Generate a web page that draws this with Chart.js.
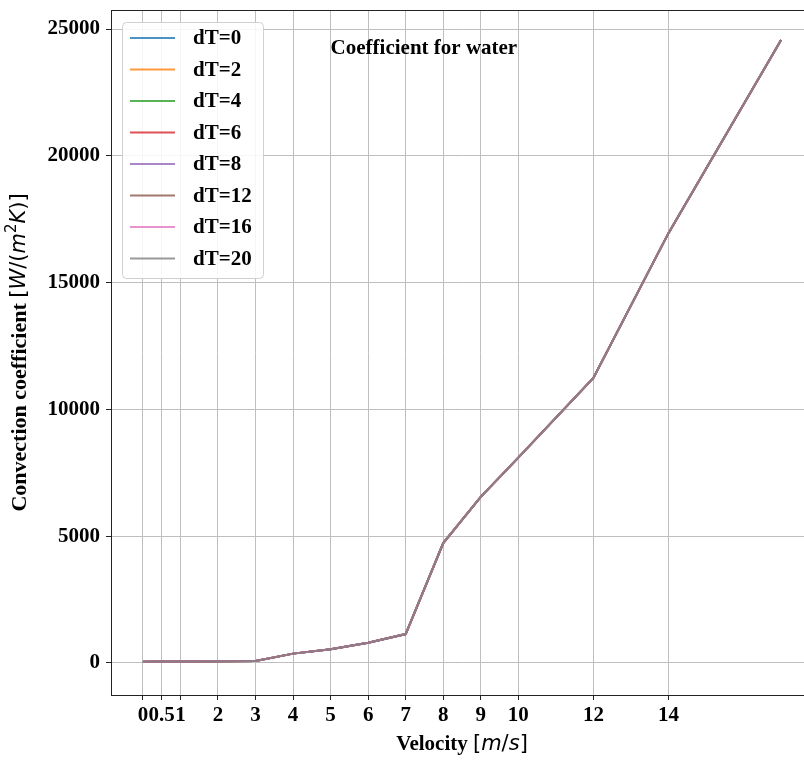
<!DOCTYPE html>
<html>
<head>
<meta charset="utf-8">
<script src="https://cdn.jsdelivr.net/npm/chart.js@4.4.0/dist/chart.umd.min.js"></script>
<style>
    html, body { margin: 0; padding: 0; background: #fff; overflow: hidden; }
    #wrap { width: 820px; height: 762px; }
</style>
</head>
<body>
<div id="wrap"><canvas id="waterChart"></canvas></div>
<script>
// Data (all dT curves overlap)
const velocity = [0, 0.5, 1, 2, 3, 4, 5, 6, 7, 8, 9, 10, 12, 14, 17];
const hWater = [50, 55, 60, 65, 80, 370, 540, 800, 1140, 4730, 6550, 8100, 11240, 16950, 24570];
const dTLabels = ['dT=0', 'dT=2', 'dT=4', 'dT=6', 'dT=8', 'dT=12', 'dT=16', 'dT=20'];
const lineColors = [
    'rgba(31,119,180,0.8)', 'rgba(255,127,14,0.8)', 'rgba(44,160,44,0.8)', 'rgba(214,39,40,0.8)',
    'rgba(148,103,189,0.8)', 'rgba(140,86,75,0.8)', 'rgba(227,119,194,0.8)', 'rgba(127,127,127,0.8)'
];
const xTicks = [0, 0.5, 1, 2, 3, 4, 5, 6, 7, 8, 9, 10, 12, 14];
const yTicks = [0, 5000, 10000, 15000, 20000, 25000];
const noteText = 'Coefficient for water';
const notePos = {x: 5, y: 24000};

const serifBold = 'bold 21px "Liberation Serif", "Times New Roman", serif';
const titleSerif = 'bold 22px "Liberation Serif", "Times New Roman", serif';
const mathFont = '21px "DejaVu Sans", sans-serif';
const mathItalic = 'italic 21px "DejaVu Sans", sans-serif';
const supFont = '15px "DejaVu Sans", sans-serif';

// draws mixed-font text centred on (cx, cy)
function drawSegments(ctx, segs, cx, cy, angle) {
    ctx.save();
    ctx.translate(cx, cy);
    ctx.rotate(angle);
    ctx.textBaseline = 'middle';
    ctx.textAlign = 'left';
    ctx.fillStyle = '#000';
    let total = 0;
    segs.forEach(s => { ctx.font = s[1]; total += ctx.measureText(s[0]).width; });
    let x = -total / 2;
    segs.forEach(s => {
        ctx.font = s[1];
        ctx.fillText(s[0], x, s[2] || 0);
        x += ctx.measureText(s[0]).width;
    });
    ctx.restore();
}

const decorPlugin = {
    id: 'decor',
    afterDraw(chart) {
        const ctx = chart.ctx;
        const a = chart.chartArea;
        const xs = chart.scales.x, ys = chart.scales.y;

        // frame (top/right spines)
        ctx.save();
        ctx.strokeStyle = '#222';
        ctx.lineWidth = 1;
        ctx.strokeRect(a.left + 0.5, a.top + 0.5, a.right - a.left - 1, a.bottom - a.top);
        ctx.restore();

        // annotation text
        ctx.save();
        ctx.font = serifBold;
        ctx.fillStyle = '#000';
        ctx.textAlign = 'left';
        ctx.textBaseline = 'alphabetic';
        ctx.fillText(noteText, xs.getPixelForValue(notePos.x), ys.getPixelForValue(notePos.y));
        ctx.restore();

        // legend
        ctx.save();
        ctx.beginPath();
        ctx.roundRect(122.5, 22.5, 141, 256, 4);
        ctx.fillStyle = 'rgba(255,255,255,0.85)';
        ctx.fill();
        ctx.strokeStyle = '#d0d0d0';
        ctx.lineWidth = 1;
        ctx.stroke();
        ctx.font = serifBold;
        ctx.textBaseline = 'middle';
        ctx.textAlign = 'left';
        chart.data.datasets.forEach((ds, i) => {
            const y = 38 + i * 31.5;
            ctx.strokeStyle = ds.borderColor;
            ctx.lineWidth = 2;
            ctx.beginPath();
            ctx.moveTo(130, y);
            ctx.lineTo(175, y);
            ctx.stroke();
            ctx.fillStyle = '#000';
            ctx.fillText(ds.label, 193, y + 1);
        });
        ctx.restore();

        // axis titles
        drawSegments(ctx, [
            ['Velocity ', serifBold], ['[', mathFont], ['m', mathItalic], ['/', mathFont], ['s', mathItalic], [']', mathFont]
        ], (a.left + a.right) / 2, 745, 0);
        drawSegments(ctx, [
            ['Convection coefficient ', titleSerif], ['[', mathFont], ['W', mathItalic], ['/(', mathFont],
            ['m', mathItalic], ['2', supFont, -8], ['K', mathItalic], [')]', mathFont]
        ], 20, (a.top + a.bottom) / 2, -Math.PI / 2);
    }
};

const datasets = dTLabels.map((label, i) => ({
    label: label,
    data: velocity.map((v, j) => ({x: v, y: hWater[j]})),
    borderColor: lineColors[i],
    backgroundColor: lineColors[i],
    borderWidth: 2,
    pointRadius: 0,
    tension: 0,
    fill: false,
    order: dTLabels.length - i   // last series drawn on top, like matplotlib
}));

new Chart(document.getElementById('waterChart'), {
    type: 'line',
    data: { datasets },
    options: {
        responsive: true,
        maintainAspectRatio: false,
        animation: false,
        devicePixelRatio: 1,
        layout: { padding: { top: 10, right: 7, left: 0, bottom: 0 } },
        scales: {
            x: {
                type: 'linear',
                min: -0.85,
                max: 17.85,
                afterBuildTicks: axis => { axis.ticks = xTicks.map(v => ({value: v})); },
                afterFit: axis => { axis.height = 67; axis.paddingLeft = 0; axis.paddingRight = 0; },
                ticks: {
                    autoSkip: false, maxRotation: 0, padding: 3, color: '#000',
                    font: { family: '"Liberation Serif", serif', size: 21, weight: 'bold' },
                    callback: v => String(v)
                },
                grid: { color: '#bfbfbf', lineWidth: 1, tickColor: '#222', tickLength: 5 },
                border: { color: '#222', width: 1 }
            },
            y: {
                min: -1262,
                max: 25750,
                afterBuildTicks: axis => { axis.ticks = yTicks.map(v => ({value: v})); },
                afterFit: axis => { axis.width = 111; axis.paddingTop = 0; axis.paddingBottom = 0; },
                ticks: {
                    padding: 6, color: '#000',
                    font: { family: '"Liberation Serif", serif', size: 21, weight: 'bold' },
                    callback: v => String(v)
                },
                grid: { color: '#bfbfbf', lineWidth: 1, tickColor: '#222', tickLength: 5 },
                border: { color: '#222', width: 1 }
            }
        },
        plugins: { legend: { display: false }, tooltip: { enabled: false } }
    },
    plugins: [decorPlugin]
});
</script>
</body>
</html>
